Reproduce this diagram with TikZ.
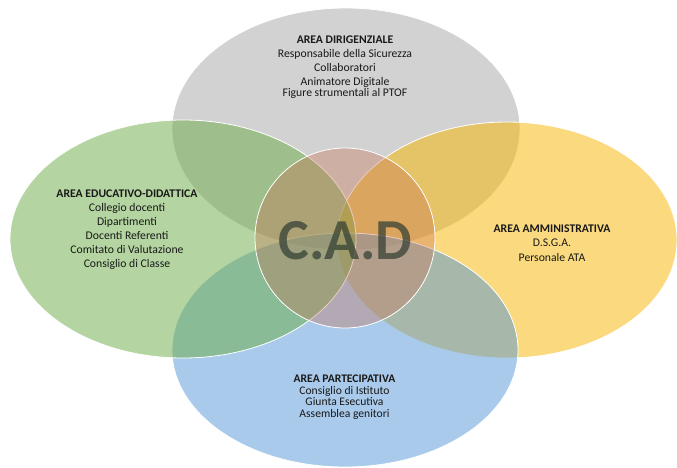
\documentclass[tikz,border=0pt]{standalone}
\usepackage{fontspec}
\setmainfont{Carlito}
\definecolor{cgray}{RGB}{210,210,210}
\definecolor{cgreen}{RGB}{107,173,69}
\definecolor{cyellow}{RGB}{249,183,0}
\definecolor{cblue}{RGB}{85,151,215}
\definecolor{ccircle}{RGB}{200,110,80}
\definecolor{ctext}{RGB}{25,25,25}
\definecolor{ccad}{RGB}{50,62,50}
\begin{document}
\begin{tikzpicture}[x=1pt,y=-1pt,
  area/.style={draw=white, line width=0.8pt, fill opacity=0.5},
  lbl/.style={align=center, text=ctext, font=\fontsize{11.7}{14}\selectfont, inner sep=0pt, anchor=north}]
\useasboundingbox[fill=white] (0,0) rectangle (677,468);
% ellipses
\path[area, fill=cgray, fill opacity=1] (346,129) ellipse [x radius=174pt, y radius=121pt];
\path[area, fill=cyellow] (507,240) ellipse [x radius=170pt, y radius=118pt];
\path[area, fill=cblue] (345,350) ellipse [x radius=173pt, y radius=117pt];
\path[area, fill=cgreen] (183,239) ellipse [x radius=173pt, y radius=119pt];
\path[area, fill=ccircle, fill opacity=0.35] (345,238) circle [radius=90pt];
% labels
\node[lbl] (dir) at (345,35.5) {\textbf{AREA DIRIGENZIALE}\\Responsabile della Sicurezza\\Collaboratori\\Animatore Digitale\\[-3pt]Figure strumentali al PTOF};
\node[lbl] (edu) at (127,190) {\textbf{AREA EDUCATIVO-DIDATTICA}\\Collegio docenti\\Dipartimenti\\Docenti Referenti\\Comitato di Valutazione\\Consiglio di Classe};
\node[lbl] (amm) at (552,224.5) {\textbf{AREA AMMINISTRATIVA}\\[0.5pt]D.S.G.A.\\[0.5pt]Personale ATA};
\node[lbl, font=\fontsize{11.6}{11.3}\selectfont] (par) at (344.5,375) {\textbf{AREA PARTECIPATIVA}\\Consiglio di Istituto\\Giunta Esecutiva\\[0.7pt]Assemblea genitori};
\node[inner sep=0pt, text=ccad, text opacity=0.72, font=\fontsize{58}{58}\selectfont\bfseries] (cad) at (345.5,241) {C.A.D};
\end{tikzpicture}
\end{document}
